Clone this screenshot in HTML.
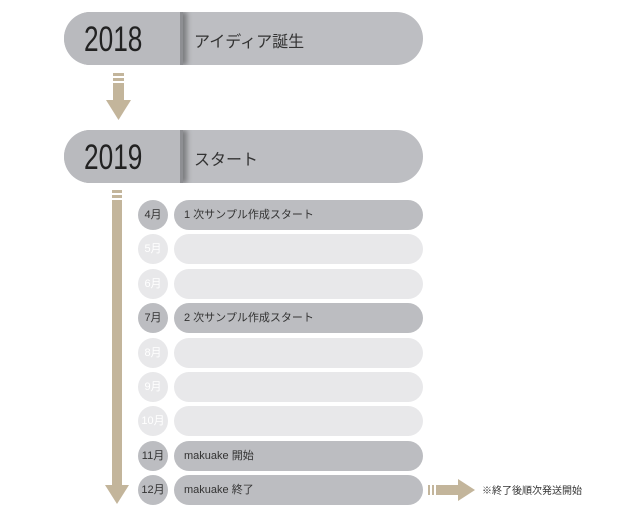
<!DOCTYPE html><html><head><meta charset="utf-8"><style>
body{margin:0;width:640px;height:512px;background:#fff;position:relative;overflow:hidden;font-family:"Liberation Sans","Noto Sans CJK JP",sans-serif}
.a{position:absolute}
.yp{position:absolute;left:64px;width:359px;height:53px;border-radius:27px;background:#bdbec2;overflow:hidden}
.yp .l{position:absolute;left:0;top:0;width:116px;height:53px;background:#b9babe;box-shadow:4px 0 5px rgba(0,0,0,.35);border-right:3px solid #8e8f93}
.yp .y{position:absolute;left:20px;top:8px;font-family:"Liberation Sans Narrow","Liberation Sans",sans-serif;font-size:35px;color:#222;transform:scaleX(.75);transform-origin:left}
.yp .t{position:absolute;left:130px;top:16px;font-size:16px;color:#333}
.c{position:absolute;left:138px;width:30px;height:30px;border-radius:50%;font-size:11px;line-height:30px;text-align:center}
.p{position:absolute;left:174px;width:249px;height:30px;border-radius:15px;font-size:11px;line-height:30px;padding-left:10px;box-sizing:border-box;color:#333}
.d{background:#bcbdc1;color:#333}.g{background:#e8e8ea;color:#fff}
</style></head><body>
<div class="yp" style="top:12px"><div class="l"></div><div class="y">2018</div><div class="t">アイディア誕生</div></div>
<div class="yp" style="top:130px"><div class="l"></div><div class="y">2019</div><div class="t">スタート</div></div>
<svg class="a" style="left:0;top:0" width="640" height="512">
<g fill="#c3b59b">
<rect x="113" y="73" width="11" height="3"/><rect x="113" y="78" width="11" height="3"/><rect x="113" y="83" width="11" height="17"/>
<polygon points="106,100 131,100 118.5,120"/>
<rect x="112" y="190" width="10" height="3"/><rect x="112" y="195" width="10" height="3"/><rect x="112" y="200" width="10" height="285"/>
<polygon points="105,485 129,485 117,504"/>
<rect x="428" y="485" width="2" height="10"/><rect x="432" y="485" width="2" height="10"/><rect x="436" y="485" width="22" height="10"/>
<polygon points="458,479 475,490 458,501"/>
</g>
<text x="482" y="494" font-size="10" fill="#333" font-family="Liberation Sans,Noto Sans CJK JP,sans-serif">※終了後順次発送開始</text>
</svg>
<div class="c d" style="top:200px">4月</div><div class="p d" style="top:200px">1 次サンプル作成スタート</div>
<div class="c g" style="top:234px">5月</div><div class="p g" style="top:234px"></div>
<div class="c g" style="top:269px">6月</div><div class="p g" style="top:269px"></div>
<div class="c d" style="top:303px">7月</div><div class="p d" style="top:303px">2 次サンプル作成スタート</div>
<div class="c g" style="top:338px">8月</div><div class="p g" style="top:338px"></div>
<div class="c g" style="top:372px">9月</div><div class="p g" style="top:372px"></div>
<div class="c g" style="top:406px">10月</div><div class="p g" style="top:406px"></div>
<div class="c d" style="top:441px">11月</div><div class="p d" style="top:441px">makuake 開始</div>
<div class="c d" style="top:475px">12月</div><div class="p d" style="top:475px">makuake 終了</div>
</body></html>
